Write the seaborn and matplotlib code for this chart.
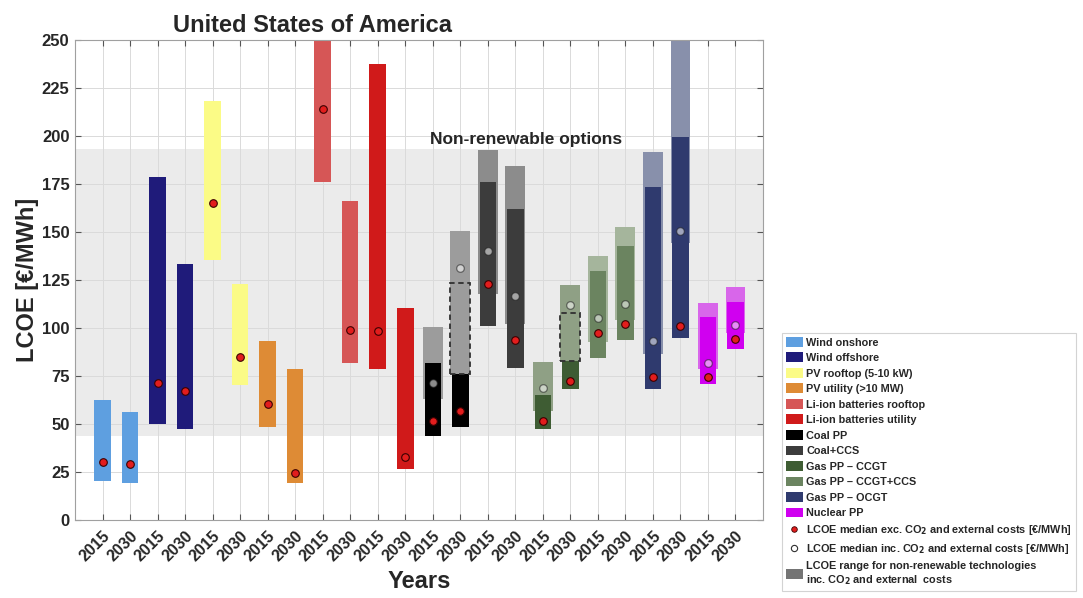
import numpy as np
import pandas as pd
import matplotlib
matplotlib.use("Agg")
import matplotlib.pyplot as plt
from matplotlib.patches import Patch, Rectangle
from matplotlib.lines import Line2D
import seaborn as sns

# ---- data (LCOE, EUR/MWh) ----
technologies = [
    "Wind onshore", "Wind offshore", "PV rooftop (5-10 kW)", "PV utility (>10 MW)",
    "Li-ion batteries rooftop", "Li-ion batteries utility", "Coal PP", "Coal+CCS",
    "Gas PP – CCGT", "Gas PP – CCGT+CCS", "Gas PP – OCGT", "Nuclear PP",
]
years = ["2015", "2030"] * 12

exc_low = [20.5, 19.4, 50.0, 47.4, 135.5, 70.5, 48.3, 19.4, 176.0, 81.9, 78.5, 26.4,
           44.0, 48.6, 100.9, 79.2, 47.4, 68.3, 84.5, 94.0, 68.3, 94.9, 70.9, 89.2]
exc_high = [62.7, 56.5, 178.6, 133.5, 218.1, 123.0, 93.5, 78.5, 262.0, 166.1, 237.4, 110.5,
            81.9, 123.4, 176.0, 161.8, 65.3, 107.9, 129.6, 142.5, 173.4, 199.5, 105.6, 113.5]
exc_median = [30.4, 29.2, 71.6, 67.4, 164.9, 85.1, 60.3, 24.3, 214.3, 99.2, 98.3, 32.6,
              51.8, 56.6, 123.0, 93.8, 51.4, 72.3, 97.5, 102.2, 74.3, 100.9, 74.3, 94.2]

nan = np.nan
inc_low = [nan] * 12 + [63.1, 76.1, 117.8, 102.2, 57.0, 82.7, 92.6, 104.3, 86.5, 144.2, 78.7, 97.5]
inc_high = [nan] * 12 + [100.4, 150.3, 192.5, 184.4, 82.5, 122.2, 137.3, 152.6, 191.7, 262.0, 112.9, 121.3]
inc_median = [nan] * 12 + [71.2, 131.2, 139.9, 116.6, 68.8, 112.1, 105.1, 112.6, 93.0, 150.3, 81.9, 101.8]

# bars where the range incl. CO2 costs is drawn over the hidden part of the base range
inc_drawn_on_top = [False] * 13 + [True] + [False] * 3 + [True] + [False] * 6

band_low, band_high = 44.0, 193.0

# ---- styling ----
base_colors = ["#5e9fe0", "#1f1b7a", "#fbfb86", "#de8b35", "#d65656", "#d01a1a",
               "#000000", "#3c3c3c", "#3e5c33", "#6b8460", "#2f3a6e", "#d000f0"]
light_colors = [None] * 6 + ["#9c9c9c", "#8c8c8c", "#8fa085", "#a5b59c", "#8890ab", "#d866ea"]

sns.set_theme(style="white")
plt.rcParams["font.family"] = ["Liberation Sans", "DejaVu Sans"]
plt.rcParams["font.weight"] = "bold"

df = pd.DataFrame({
    "pos": np.arange(1, 25),
    "year": years,
    "tech": np.repeat(technologies, 2),
    "exc_low": exc_low, "exc_high": exc_high, "exc_median": exc_median,
    "inc_low": inc_low, "inc_high": inc_high, "inc_median": inc_median,
})

fig = plt.figure(figsize=(10.83, 5.98), dpi=100)
ax = fig.add_axes([0.0693, 0.1304, 0.6352, 0.8026])

ax.axhspan(band_low, band_high, color="#ebebeb", zorder=0, lw=0)

w_exc, w_inc = 0.6, 0.72
for i, row in df.iterrows():
    k = i // 2
    c = base_colors[k]
    has_inc = not np.isnan(row.inc_low)
    if has_inc and inc_drawn_on_top[i]:
        ax.bar(row.pos, row.exc_high - row.exc_low, bottom=row.exc_low, width=w_exc,
               color=c, lw=0, zorder=2)
        ax.bar(row.pos, row.inc_high - row.inc_low, bottom=row.inc_low, width=w_inc,
               color=light_colors[k], lw=0, zorder=2.5)
        ax.add_patch(Rectangle((row.pos - w_inc / 2, row.inc_low), w_inc,
                               row.exc_high - row.inc_low, fill=False, ls=(0, (3, 2)),
                               lw=1.3, ec="#303030", zorder=2.6))
    else:
        if has_inc:
            ax.bar(row.pos, row.inc_high - row.inc_low, bottom=row.inc_low, width=w_inc,
                   color=light_colors[k], lw=0, zorder=2)
        ax.bar(row.pos, row.exc_high - row.exc_low, bottom=row.exc_low, width=w_exc,
               color=c, lw=0, zorder=2.5)

sns.scatterplot(data=df, x="pos", y="inc_median", ax=ax, s=30, color="white", alpha=0.55,
                edgecolor="#202020", linewidth=0.9, zorder=4, legend=False)
sns.scatterplot(data=df, x="pos", y="exc_median", ax=ax, s=30, color="#e21d1d",
                edgecolor="#3a0000", linewidth=0.8, zorder=4, legend=False)

ax.text(16.4, 198, "Non-renewable options", ha="center", va="center",
        fontsize=12.5, fontweight="bold", zorder=5)

ax.set_xlim(0, 25)
ax.set_ylim(0, 250)
ax.set_xticks(df.pos)
ax.set_xticklabels(years, rotation=45, ha="right", rotation_mode="anchor",
                   fontsize=11.5, fontweight="bold")
ax.set_yticks(np.arange(0, 251, 25))
ax.set_yticklabels([str(v) for v in range(0, 251, 25)], fontsize=12, fontweight="bold")
ax.tick_params(axis="both", direction="in", length=4, width=0.8, color="#555555",
               top=True, right=True, bottom=True, left=True, pad=4)
ax.tick_params(axis="x", pad=6)
ax.grid(True, color="#dadada", lw=0.7, zorder=1)
ax.set_axisbelow(True)
for sp in ax.spines.values():
    sp.set_color("#a0a0a0")
    sp.set_linewidth(0.8)

ax.set_xlabel("Years", fontsize=17, fontweight="bold", labelpad=4)
ax.set_ylabel("LCOE [€/MWh]", fontsize=17, fontweight="bold", labelpad=2)
ax.set_title("United States of America", fontsize=17, fontweight="bold", pad=6,
             x=0.345)

handles = [Patch(facecolor=c, edgecolor="none") for c in base_colors]
labels = list(technologies)
handles.append(Line2D([], [], ls="none", marker="o", ms=4, mfc="#e21d1d", mec="#3a0000", mew=0.6))
labels.append("LCOE median exc. CO$_2$ and external costs [€/MWh]")
handles.append(Line2D([], [], ls="none", marker="o", ms=4.5, mfc="white", mec="#303030", mew=0.8))
labels.append("LCOE median inc. CO$_2$ and external costs [€/MWh]")
handles.append(Patch(facecolor="#747474", edgecolor="none"))
labels.append("LCOE range for non-renewable technologies\ninc. CO$_2$ and external  costs")

leg = fig.legend(handles, labels, loc="upper left", bbox_to_anchor=(0.722, 0.443),
                 prop={"size": 7.85, "weight": "bold"}, frameon=True, fancybox=False,
                 handlelength=1.6, handleheight=1.0, handletextpad=0.3,
                 labelspacing=0.45, borderpad=0.35, borderaxespad=0)
leg.get_frame().set_edgecolor("#c8c8c8")
leg.get_frame().set_linewidth(0.8)

fig.savefig("out.png", dpi=100)
